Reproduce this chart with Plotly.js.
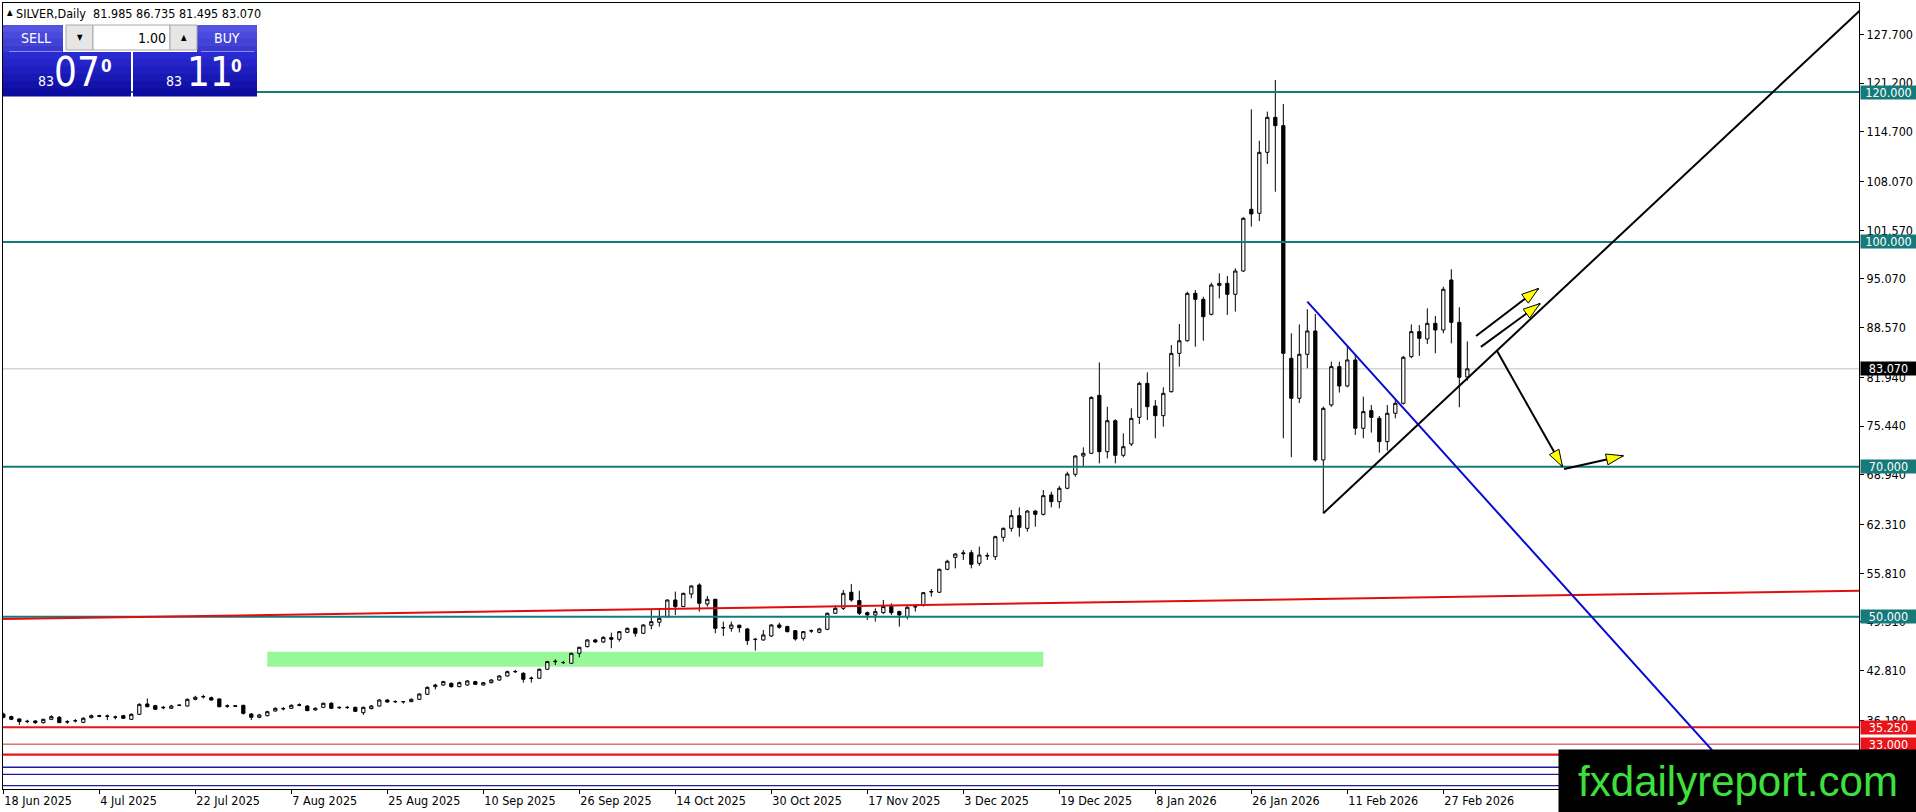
<!DOCTYPE html>
<html>
<head>
<meta charset="utf-8">
<script src="https://cdn.plot.ly/plotly-3.0.1.min.js"></script>
<style>
html,body{margin:0;padding:0;background:#fff;}
#chart{width:1916px;height:812px;}
</style>
</head>
<body>
<div id="chart"></div>
<script>
// ---------------- DATA ----------------
const holidays = ['2025-12-25', '2026-01-01'];
const firstDate = '2025-06-18';
const barCount = 184;

const open = [37.02,36.67,36.36,36.00,36.09,35.87,36.31,36.58,35.95,36.10,35.91,36.53,36.80,36.76,36.60,36.80,36.31,36.98,38.36,38.13,
37.85,37.78,38.15,38.09,38.98,39.30,39.20,39.03,38.05,38.12,38.18,37.02,36.58,36.80,37.42,37.70,37.78,38.25,38.09,37.56,
37.91,38.45,37.85,37.90,37.91,37.20,37.74,38.09,38.89,38.65,38.68,38.67,38.98,39.65,40.67,40.89,41.11,40.67,40.89,41.34,
40.89,41.20,41.56,42.09,42.65,42.45,41.75,41.79,42.99,44.00,43.90,43.79,45.12,46.01,46.90,46.63,47.21,46.99,47.92,48.45,
47.79,48.86,49.26,50.01,52.23,51.35,53.03,54.24,51.70,52.32,48.50,48.45,48.86,48.37,46.95,46.90,47.43,48.90,48.68,48.14,
47.12,48.10,47.92,48.32,50.46,51.12,53.26,52.15,50.54,50.23,50.54,51.35,50.68,50.01,51.30,51.57,53.30,53.26,56.33,57.92,
58.40,58.54,57.12,58.10,58.01,60.59,61.79,63.48,61.79,64.10,63.66,66.24,65.35,67.13,68.99,71.44,71.80,79.53,72.02,76.15,
71.53,73.04,76.60,81.13,78.11,76.82,80.02,85.13,86.82,93.14,92.34,90.34,94.20,94.48,93.01,96.12,104.35,103.82,111.95,116.62,
115.51,84.47,79.14,85.01,88.12,70.91,78.25,83.36,80.78,84.25,75.14,77.49,76.47,73.36,77.14,78.47,84.70,88.03,87.05,89.14,
88.25,94.92,89.27,81.985];
const high = [37.20,36.80,36.45,36.25,36.20,36.40,36.85,36.75,36.20,36.35,36.60,36.95,36.90,36.95,36.80,36.90,37.10,38.45,39.10,38.25,
38.10,38.25,38.30,39.10,39.45,39.60,39.35,39.10,38.30,38.20,38.25,37.15,37.05,37.45,37.90,37.95,38.30,38.45,38.20,37.90,
38.55,38.60,38.05,38.10,38.00,38.00,38.20,39.00,39.00,38.85,38.72,39.10,39.80,40.70,41.05,41.45,41.25,41.35,41.55,41.45,
41.30,41.70,42.20,42.80,42.90,42.60,42.01,43.10,44.10,44.32,44.10,45.20,46.00,47.00,47.05,47.40,47.88,48.10,48.55,48.55,
49.00,50.90,50.90,52.30,53.35,53.20,54.20,54.46,52.77,52.40,49.34,49.34,48.95,48.50,47.15,48.23,49.00,49.20,48.80,48.20,
48.10,48.30,48.50,50.55,51.52,53.57,54.37,53.48,50.70,51.12,52.23,51.79,50.80,51.40,51.50,53.30,53.70,56.40,57.60,58.46,
58.90,58.90,59.35,58.54,60.80,61.90,64.24,64.59,64.20,64.20,66.90,66.68,67.44,69.35,71.57,72.60,79.40,83.93,78.02,76.33,
74.46,77.80,81.35,82.60,78.90,80.60,86.25,89.05,93.36,93.58,92.69,94.56,95.81,95.46,96.48,103.30,117.69,113.50,117.38,121.60,
118.40,87.81,89.00,91.03,90.39,78.03,84.03,84.03,86.12,84.92,79.36,78.25,76.78,78.25,79.14,84.80,89.00,88.92,91.14,90.12,
94.03,96.35,91.28,86.735];
const low = [36.45,36.20,35.56,35.80,35.70,35.75,36.20,35.80,35.70,35.90,35.80,36.45,36.60,36.20,36.30,36.35,36.25,36.90,37.90,37.55,
37.65,37.70,38.10,38.00,38.85,39.10,38.80,37.90,37.85,37.95,36.95,36.22,36.45,36.70,37.35,37.50,37.70,38.05,37.40,37.50,
37.85,37.70,37.70,37.70,37.30,36.90,37.65,38.00,38.55,38.50,38.40,38.60,38.90,39.55,40.30,40.80,40.55,40.60,40.80,40.90,
40.80,41.10,41.45,42.00,42.50,41.20,41.21,41.70,42.90,43.56,43.70,43.70,44.59,45.90,46.50,46.50,45.79,46.68,47.85,47.34,
47.70,48.32,48.68,49.90,50.23,51.30,52.46,50.68,51.35,47.79,47.43,48.01,47.90,46.23,45.47,46.80,47.30,48.40,47.90,46.81,
46.81,47.85,47.80,48.20,50.40,50.90,52.01,50.23,49.57,49.35,50.37,50.23,48.68,49.66,50.68,51.35,52.68,53.20,56.20,56.45,
57.57,56.45,56.77,57.57,57.57,60.01,61.34,60.68,61.34,62.01,63.50,64.59,64.46,67.00,68.68,70.02,71.70,70.46,71.13,70.46,
71.26,72.77,75.71,76.24,73.80,75.35,79.90,83.36,86.70,86.02,86.82,90.20,92.47,90.25,90.70,96.00,102.04,102.79,110.40,106.70,
73.80,71.27,78.50,83.14,70.69,63.80,78.00,79.90,80.60,74.25,73.80,74.56,71.89,72.16,76.47,78.30,84.50,84.80,86.39,85.14,
87.81,86.47,77.94,81.495];
const close = [36.58,36.31,36.00,36.05,35.87,36.31,36.67,35.87,36.00,36.13,36.45,36.80,36.72,36.72,36.62,36.45,36.98,38.31,38.00,37.65,
37.90,38.09,38.20,38.98,39.25,39.35,38.89,38.00,38.10,38.05,37.11,36.58,36.89,37.33,37.78,37.75,38.18,38.20,37.47,37.78,
38.45,37.78,37.90,37.88,37.38,37.91,38.09,38.89,38.62,38.68,38.66,38.98,39.69,40.58,40.89,41.34,40.67,41.20,41.43,40.98,
41.20,41.56,42.09,42.67,42.70,41.65,41.80,42.99,44.01,44.05,43.88,45.12,45.92,46.90,46.63,47.25,46.99,48.01,48.45,47.79,
48.90,49.34,49.79,52.23,51.35,53.12,54.10,51.79,52.32,48.45,48.55,48.90,48.54,46.81,46.99,47.57,48.90,48.59,48.01,47.03,
48.01,48.12,48.37,50.46,51.12,53.12,52.23,50.46,50.23,50.68,51.35,50.54,50.23,51.26,51.35,53.21,53.35,56.33,57.40,58.37,
58.50,56.99,58.23,58.15,60.68,61.79,63.48,61.92,64.10,63.66,66.15,65.35,67.13,69.04,71.44,71.80,79.26,72.02,76.15,71.53,
72.68,76.46,81.13,78.02,76.82,79.80,85.13,86.82,93.14,92.34,90.02,94.25,94.47,93.01,96.12,103.15,103.73,111.95,116.62,115.51,
85.14,79.14,85.01,88.12,70.91,77.80,83.36,80.78,84.25,75.14,77.36,76.60,73.36,77.14,78.47,84.61,88.03,87.14,89.14,88.25,
93.68,89.27,81.94,83.070];

const tickDates  = ['2025-06-18','2025-07-04','2025-07-22','2025-08-07','2025-08-25','2025-09-10','2025-09-26','2025-10-14',
                    '2025-10-30','2025-11-17','2025-12-03','2025-12-19','2026-01-08','2026-01-26','2026-02-11','2026-02-27'];
const tickLabels = ['18 Jun 2025','4 Jul 2025','22 Jul 2025','7 Aug 2025','25 Aug 2025','10 Sep 2025','26 Sep 2025','14 Oct 2025',
                    '30 Oct 2025','17 Nov 2025','3 Dec 2025','19 Dec 2025','8 Jan 2026','26 Jan 2026','11 Feb 2026','27 Feb 2026'];
const priceTicks = [127.7,121.2,114.7,108.07,101.57,95.07,88.57,81.94,75.44,68.94,62.31,55.81,49.31,42.81,36.18,29.68];

const levelPrices   = [120, 100, 70, 50];      // teal horizontal levels
const supportPrices = [35.25, 33.0, 31.6];     // red horizontal levels
const bluePrices    = [29.92, 28.98, 27.46];   // blue horizontal levels
const bidPrice = 83.07;
const header = {symbol:'SILVER,Daily', o:'81.985', h:'86.735', l:'81.495', c:'83.070'};
const sellQuote = {big:'83', pips:'07', last:'0'};
const buyQuote  = {big:'83', pips:'11', last:'0'};
const lotSize = '1.00';

// ------------- derived categories -------------
const dates = [];
(function(){
  let d = new Date(firstDate + 'T00:00:00Z');
  while (dates.length < barCount) {
    const wd = d.getUTCDay();
    const s = d.toISOString().slice(0,10);
    if (wd !== 0 && wd !== 6 && holidays.indexOf(s) < 0) dates.push(s);
    d = new Date(d.getTime() + 86400000);
  }
})();
const idx = dates.map((d,i)=>i);
const tickvals = tickDates.map(d => dates.indexOf(d));

// ------------- geometry helpers -------------
const W = 1916, H = 812;
const M = {l:3, r:57, t:3, b:23};
const PW = W - M.l - M.r, PH = H - M.t - M.b;
const xr = [-0.04, 231.96];
const yr = [27.017, 131.873];
const px2x = p => (p - M.l) / PW;
const py2y = p => (H - M.b - p) / PH;
const sx = PW / (xr[1]-xr[0]), sy = PH / (yr[1]-yr[0]);

const F = '"DejaVu Sans Condensed", "Liberation Sans", sans-serif';
const TEAL = '#167a7a';

const shapes = [];
const annotations = [];

// green zone (background)
shapes.push({type:'rect', xref:'x', yref:'y', x0:33, x1:130, y0:43.33, y1:45.33,
  fillcolor:'#98f898', line:{width:0}, layer:'below'});

// bid line
shapes.push({type:'line', xref:'paper', yref:'y', x0:0, x1:1, y0:bidPrice, y1:bidPrice,
  line:{color:'#c0c0c0', width:1}, layer:'below'});

// teal levels
levelPrices.forEach(p => shapes.push({type:'line', xref:'paper', yref:'y', x0:0, x1:1, y0:p, y1:p,
  line:{color:TEAL, width:2}, layer:'above'}));
// red levels
shapes.push({type:'line', xref:'paper', yref:'y', x0:0, x1:1, y0:supportPrices[0], y1:supportPrices[0], line:{color:'#e8141a', width:2}});
shapes.push({type:'line', xref:'paper', yref:'y', x0:0, x1:1, y0:supportPrices[1], y1:supportPrices[1], line:{color:'#c83030', width:1}});
shapes.push({type:'line', xref:'paper', yref:'y', x0:0, x1:1, y0:supportPrices[2], y1:supportPrices[2], line:{color:'#e8141a', width:2.2}});
// blue levels
bluePrices.forEach(p => shapes.push({type:'line', xref:'paper', yref:'y', x0:0, x1:1, y0:p, y1:p,
  line:{color:'#1c1ca0', width:1.3}}));

// slanted red line
shapes.push({type:'line', xref:'x', yref:'y', x0:-0.5, y0:49.69, x1:232, y1:53.47, line:{color:'#e00e0e', width:2}});
// blue descending trendline
shapes.push({type:'line', xref:'x', yref:'y', x0:163.0, y0:92.03, x1:217.6, y1:27.46, line:{color:'#0a0ad0', width:2}});
// black rising trendline
shapes.push({type:'line', xref:'x', yref:'y', x0:165.0, y0:63.80, x1:234, y1:132.8, line:{color:'#000', width:2}});

// arrows
const arrows = [
  [184.1, 87.45, 191.9, 93.79],
  [184.7, 86.00, 192.1, 91.78],
  [186.7, 85.47, 194.9, 70.01],
  [195.1, 69.71, 202.5, 71.48]
];
function headPath(x0,y0,x1,y1,len,half){
  const dxp=(x1-x0)*sx, dyp=(y1-y0)*sy;
  const L=Math.hypot(dxp,dyp), ux=dxp/L, uy=dyp/L;
  const bx=x1-len*ux/sx, by=y1-len*uy/sy;
  const nx=-uy, ny=ux;
  const p2=[bx+half*nx/sx, by+half*ny/sy], p3=[bx-half*nx/sx, by-half*ny/sy];
  return 'M'+x1+','+y1+' L'+p2[0]+','+p2[1]+' L'+p3[0]+','+p3[1]+' Z';
}
arrows.forEach(a => {
  shapes.push({type:'line', xref:'x', yref:'y', x0:a[0], y0:a[1], x1:a[2], y1:a[3], line:{color:'#000', width:2}});
  shapes.push({type:'path', xref:'x', yref:'y', path:headPath(a[0],a[1],a[2],a[3],17,5.5),
    fillcolor:'#ffff00', line:{color:'#000', width:1}});
});

// ---------- trade panel (paper coords from pixels) ----------
function prect(x0,y0,x1,y1,fill,lineColor){
  shapes.push({type:'rect', xref:'paper', yref:'paper', x0:px2x(x0), x1:px2x(x1), y0:py2y(y1), y1:py2y(y0),
    fillcolor:fill, line:lineColor?{color:lineColor,width:1}:{width:0}, layer:'above'});
}
function grad(x0,y0,x1,y1,c){ // simple vertical gradient with bands
  const n=c.length, h=(y1-y0)/n;
  for(let i=0;i<n;i++) prect(x0,y0+i*h,x1,y0+(i+1)*h+0.6,c[i]);
}
const btnCols = ['#5454e2','#4a4adc','#4242d6','#3a3ad0'];
const bigCols = ['#2a2ad2','#2424c8','#1e1ebe','#1818b4','#1212aa','#0c0ca0'];
grad(3,25,63,52,btnCols);
grad(197,25,257,52,btnCols);
prect(66,25,93,50,'#e6e6e6','#a8a8a8');
prect(93,25,170,50,'#ffffff','#a8a8a8');
prect(170,25,197,50,'#e6e6e6','#a8a8a8');
grad(3,52,131,96,bigCols);
grad(133,52,257,96,bigCols);
shapes.push({type:'line', xref:'paper', yref:'paper', x0:px2x(9), x1:px2x(62), y0:py2y(51.5), y1:py2y(51.5), line:{color:'#8c8cf0', width:1}});
shapes.push({type:'line', xref:'paper', yref:'paper', x0:px2x(201), x1:px2x(254), y0:py2y(51.5), y1:py2y(51.5), line:{color:'#8c8cf0', width:1}});

function ptext(text, x, y, size, color, xanchor, extra){
  annotations.push(Object.assign({xref:'paper', yref:'paper', x:px2x(x), y:py2y(y), text:text, showarrow:false,
    xanchor:xanchor||'center', yanchor:'middle', font:{family:F, size:size, color:color}, borderpad:0}, extra||{}));
}
ptext('▲', 9.5, 13, 8, '#000');
ptext(header.symbol + '\u00a0\u00a0' + header.o + ' ' + header.h + ' ' + header.l + ' ' + header.c, 15, 13.5, 12.5, '#000', 'left');
ptext('SELL', 36, 38.5, 14, '#fff');
ptext('BUY', 227, 38.5, 14, '#fff');
ptext('▼', 80, 38, 8, '#000');
ptext('▲', 183.5, 38, 8, '#000');
ptext(lotSize, 167, 38, 14, '#000', 'right');
ptext(sellQuote.big, 45.5, 81, 14, '#fff');
ptext(sellQuote.pips, 77, 72.5, 40, '#fff');
ptext(sellQuote.last, 106, 66, 17, '#fff', 'center', {font:{family:F, size:17, color:'#fff', weight:'bold'}});
ptext(buyQuote.big, 173.5, 81, 14, '#fff');
ptext(buyQuote.pips, 210, 72.5, 40, '#fff');
ptext(buyQuote.last, 236, 66, 17, '#fff', 'center', {font:{family:F, size:17, color:'#fff', weight:'bold'}});

// price labels on the axis
function axisLabel(price, bg){
  annotations.push({xref:'paper', yref:'y', x:px2x(1860), xanchor:'left', y:price, yanchor:'middle',
    text:price.toFixed(3), showarrow:false, bgcolor:bg, width:55, height:13, align:'center', borderpad:0,
    font:{family:F, size:12.5, color:'#fff'}});
}
levelPrices.forEach(p => axisLabel(p, TEAL));
axisLabel(bidPrice, '#000');
axisLabel(supportPrices[0], '#e8141a');
axisLabel(supportPrices[1], '#e8141a');

// watermark
annotations.push({xref:'paper', yref:'paper', x:px2x(1558), xanchor:'left', y:py2y(749), yanchor:'top',
  text:'fxdailyreport.com', showarrow:false, bgcolor:'#000', width:358, height:63, align:'center', valign:'middle',
  borderpad:0, font:{family:'"Liberation Sans", Arial, sans-serif', size:42, color:'#3ee03e'}});

// ---------------- PLOT ----------------
const trace = {
  type:'candlestick', x:idx, open:open, high:high, low:low, close:close,
  increasing:{line:{color:'#000', width:1}, fillcolor:'#ffffff'},
  decreasing:{line:{color:'#000', width:1}, fillcolor:'#000000'},
  whiskerwidth:0, hoverinfo:'skip', showlegend:false
};

const layout = {
  width:W, height:H, margin:M, paper_bgcolor:'#fff', plot_bgcolor:'#fff',
  showlegend:false, boxgap:0.42, dragmode:false,
  xaxis:{type:'linear', range:xr, showgrid:false, zeroline:false, rangeslider:{visible:false},
    tickmode:'array', tickvals:tickvals, ticktext:tickLabels, ticks:'outside', ticklen:4, tickcolor:'#000',
    ticklabelposition:'outside right', showline:true, mirror:true, linecolor:'#000', linewidth:1,
    tickfont:{family:F, size:12.5, color:'#000'}, fixedrange:true},
  yaxis:{type:'linear', range:yr, side:'right', showgrid:false, zeroline:false,
    tickmode:'array', tickvals:priceTicks, ticktext:priceTicks.map(v=>v.toFixed(3)), ticks:'outside', ticklen:4,
    tickcolor:'#000', showline:true, mirror:true, linecolor:'#000', linewidth:1,
    tickfont:{family:F, size:12.5, color:'#000'}, fixedrange:true},
  shapes:shapes, annotations:annotations
};

Plotly.newPlot('chart', [trace], layout, {displayModeBar:false, staticPlot:true});
</script>
</body>
</html>
